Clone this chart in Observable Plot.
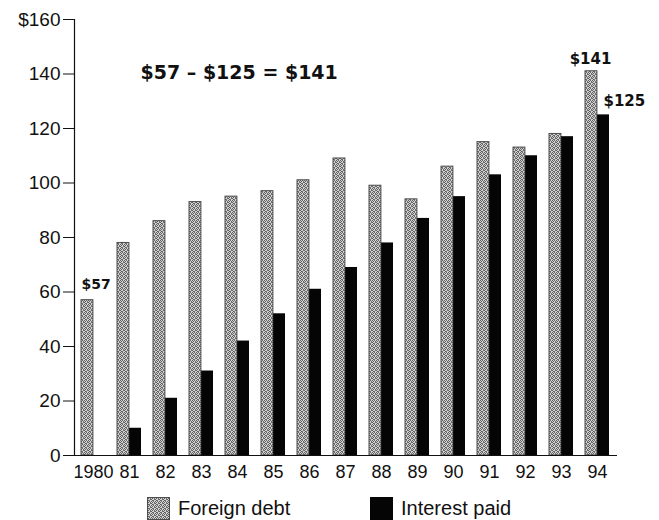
<!DOCTYPE html>
<html>
<head>
<meta charset="utf-8">
<script src="https://cdn.jsdelivr.net/npm/d3@7"></script>
<script src="https://cdn.jsdelivr.net/npm/@observablehq/plot@0.6"></script>
<style>
  html, body { margin: 0; padding: 0; background: #fff; }
  body { width: 659px; height: 520px; overflow: hidden; font-family: "Liberation Sans", Arial, sans-serif; }
  #legend { position: relative; height: 35px; }
  .item { position: absolute; top: 12px; display: flex; align-items: center; font-size: 20px; color: #111; }
  .item svg { margin-right: 8px; display: block; }
</style>
</head>
<body>
<div id="chart"></div>
<div id="legend"></div>
<script>
// ---- data ----
const years = [1980, 1981, 1982, 1983, 1984, 1985, 1986, 1987, 1988, 1989, 1990, 1991, 1992, 1993, 1994];
const tickLabels = ["1980", "81", "82", "83", "84", "85", "86", "87", "88", "89", "90", "91", "92", "93", "94"];
const foreignDebt = [57, 78, 86, 93, 95, 97, 101, 109, 99, 94, 106, 115, 113, 118, 141];
const interestPaid = [null, 10, 21, 31, 42, 52, 61, 69, 78, 87, 95, 103, 110, 117, 125];
const yTicks = [0, 20, 40, 60, 80, 100, 120, 140, 160];
const seriesNames = ["Foreign debt", "Interest paid"];

const money = v => "$" + v;
const debtRows = years.map((year, i) => ({year, value: foreignDebt[i]}));
const interestRows = years.map((year, i) => ({year, value: interestPaid[i]})).filter(d => d.value != null);
const last = years.length - 1;
const summary = [{year: years[1], value: 138, label: `${money(foreignDebt[0])} – ${money(interestPaid[last])} = ${money(foreignDebt[last])}`}];
const firstCallout = [{year: years[0], value: foreignDebt[0], label: money(foreignDebt[0])}];
const debtCallout = [{year: years[last], value: foreignDebt[last], label: money(foreignDebt[last])}];
const interestCallout = [{year: years[last], value: interestPaid[last], label: money(interestPaid[last])}];

const STIPPLE = "url(#stipple)";
const boldFont = '"DejaVu Sans", sans-serif';

const chart = Plot.plot({
  width: 659,
  height: 485,
  marginLeft: 74,
  marginRight: 42,
  marginTop: 19,
  marginBottom: 30,
  style: {fontFamily: '"Liberation Sans", Arial, sans-serif', fontSize: "18px", color: "#111", background: "white", overflow: "visible"},
  x: {type: "band", domain: years, paddingInner: 0.33, paddingOuter: 0.166, label: null},
  y: {domain: [0, 160], label: null},
  marks: [
    Plot.barY(debtRows, {x: "year", y: "value", fill: STIPPLE, stroke: "#4d4d4d", strokeWidth: 1, insetRight: 12.1, insetLeft: 0}),
    Plot.barY(interestRows, {x: "year", y: "value", fill: "#050505", insetLeft: 12.1, insetRight: 0}),
    Plot.ruleY([0], {stroke: "#111", strokeWidth: 1.2}),
    Plot.frame({anchor: "left", stroke: "#111", strokeWidth: 1.2}),
    Plot.axisX({tickSize: 0, tickPadding: 10, fontSize: 18, tickFormat: d => tickLabels[years.indexOf(d)], label: null}),
    Plot.axisY({ticks: yTicks, tickSize: 11, tickPadding: 3, fontSize: 19, tickFormat: d => d === 160 ? money(d) : String(d), label: null}),
    Plot.text(summary, {x: "year", y: "value", text: "label", textAnchor: "start", lineAnchor: "bottom", dx: 11, fontSize: 19, fontWeight: "bold", fontFamily: boldFont, fill: "#111"}),
    Plot.text(firstCallout, {x: "year", y: "value", text: "label", textAnchor: "start", lineAnchor: "bottom", dx: -12, dy: -11, fontSize: 14, fontWeight: "bold", fontFamily: boldFont, fill: "#111"}),
    Plot.text(debtCallout, {x: "year", y: "value", text: "label", textAnchor: "middle", lineAnchor: "bottom", dx: -7, dy: -7, fontSize: 15, fontWeight: "bold", fontFamily: boldFont, fill: "#111"}),
    Plot.text(interestCallout, {x: "year", y: "value", text: "label", textAnchor: "start", lineAnchor: "bottom", dx: 6, dy: -9, fontSize: 15, fontWeight: "bold", fontFamily: boldFont, fill: "#111"})
  ]
});

function addStipple(svgSel, id) {
  const defs = svgSel.insert("defs", ":first-child");
  const p = defs.append("pattern").attr("id", id).attr("patternUnits", "userSpaceOnUse").attr("width", 4).attr("height", 4);
  p.append("rect").attr("width", 4).attr("height", 4).attr("fill", "#d2d2d2");
  [[0, 0], [2, 0], [1, 1], [3, 2], [0, 2], [2, 3], [1, 3], [3, 1]].forEach(([x, y], k) => {
    p.append("rect").attr("x", x).attr("y", y).attr("width", 1).attr("height", 1).attr("fill", k % 2 ? "#6e6e6e" : "#5e5e5e");
  });
}
addStipple(d3.select(chart), "stipple");
document.getElementById("chart").appendChild(chart);

// legend
const legend = d3.select("#legend");
const legendX = [147, 370];
seriesNames.forEach((name, i) => {
  const item = legend.append("div").attr("class", "item").style("left", legendX[i] + "px");
  const sw = item.append("svg").attr("width", 23).attr("height", 23);
  if (i === 0) addStipple(sw, "stipple-legend");
  sw.append("rect").attr("x", 0.5).attr("y", 0.5).attr("width", 22).attr("height", 22)
    .attr("fill", i === 0 ? "url(#stipple-legend)" : "#050505")
    .attr("stroke", i === 0 ? "#4d4d4d" : "#050505");
  item.append("span").text(name);
});
</script>
</body>
</html>
